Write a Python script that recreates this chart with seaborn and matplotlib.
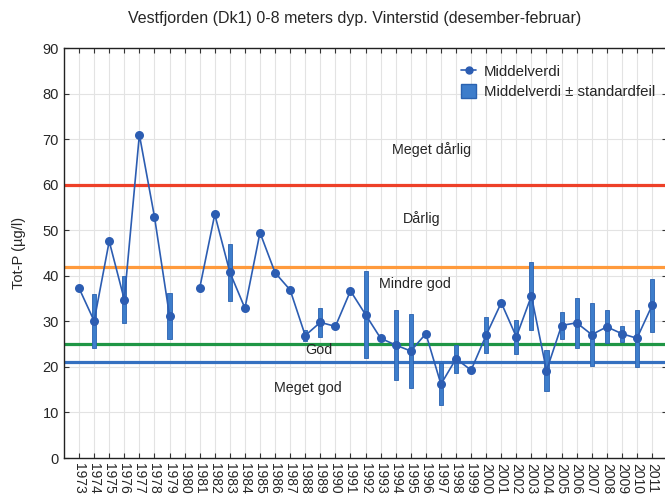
import numpy as np
import pandas as pd
import seaborn as sns
import matplotlib.pyplot as plt
from matplotlib.lines import Line2D
from matplotlib.patches import Patch

# mean Tot-P per winter, NaN where no sample
years = list(range(1973, 2012))
mean_vals = [37.3, 30.1, 47.6, 34.8, 71.0, 53.0, 31.2, np.nan, 37.3, 53.5,
             40.8, 32.9, 49.5, 40.7, 36.9, 26.9, 29.8, 28.9, 36.7, 31.5,
             26.3, 24.8, 23.5, 27.3, 16.2, 21.8, 19.3, 27.0, 34.1, 26.6,
             35.6, 19.2, 29.1, 29.7, 27.1, 28.8, 27.3, 26.3, 33.5]
# standard error (0 = no bar drawn)
std_err = [0, 5.9, 0, 5.25, 0, 0, 5.1, 0, 0, 0,
           6.3, 0, 0, 0, 0, 1.15, 3.2, 0, 0, 9.5,
           0, 7.6, 8.15, 0, 4.6, 3.05, 0, 4.0, 0, 3.7,
           7.4, 4.55, 2.9, 5.45, 6.85, 3.65, 1.75, 6.3, 5.75]

class_limits = [60, 42, 25, 21]
class_colors = ['#ee4028', '#ff9a3c', '#1f9645', '#3470c0']
class_names = ['Meget dårlig', 'Dårlig', 'Mindre god', 'God', 'Meget god']
class_label_pos = [(1996.4, 67.8), (1995.7, 52.7), (1995.3, 38.2),
                   (1988.9, 23.7), (1988.2, 15.4)]

df = pd.DataFrame({'year': years, 'mean': mean_vals, 'se': std_err})
# split the line where a year is missing
df['seg'] = df['mean'].isna().cumsum()
line_df = df.dropna(subset=['mean'])

sns.set_style('whitegrid')
plt.rcParams['font.family'] = ['Liberation Sans', 'DejaVu Sans']

fig = plt.figure(figsize=(6.65, 5.01), dpi=100)
ax = fig.add_axes([0.0962, 0.0858, 0.907, 0.818])

for lim, col in zip(class_limits, class_colors):
    ax.axhline(lim, color=col, lw=2.3, zorder=2)

err = df[df['se'] > 0]
ax.bar(err['year'], 2 * err['se'], bottom=err['mean'] - err['se'], width=0.27,
       color='#3d7dcb', edgecolor='#2a62b0', linewidth=0.6, zorder=3)

sns.lineplot(data=line_df, x='year', y='mean', units='seg', estimator=None,
             color='#2c5db2', lw=1.2, marker='o', markersize=6.5,
             markeredgewidth=0, ax=ax, zorder=4)

for name, (xp, yp) in zip(class_names, class_label_pos):
    ax.text(xp, yp, name, ha='center', va='center', fontsize=10.3)

ax.set_xlim(1972, 2012)
ax.set_ylim(0, 90)
ax.set_xticks(years)
ax.set_xticklabels([str(y) for y in years], rotation=270, fontsize=10)
ax.set_yticks(range(0, 91, 10))
ax.tick_params(axis='y', labelsize=10.5)
ax.tick_params(direction='in', length=3.5, color='#333333', top=True, right=True,
               bottom=True, left=True)
ax.grid(True, color='#e3e3e3', lw=0.8)
for s in ax.spines.values():
    s.set_color('#222222')
    s.set_linewidth(1.0)
ax.set_xlabel('')
ax.set_ylabel('Tot-P (µg/l)', fontsize=10.5, labelpad=12)

handles = [Line2D([0], [0], color='#2c5db2', lw=1.2, marker='o', markersize=5),
           Patch(facecolor='#3d7dcb', edgecolor='#2a62b0')]
ax.legend(handles, ['Middelverdi', 'Middelverdi ± standardfeil'], loc='upper right',
          bbox_to_anchor=(1.002, 0.995), frameon=False, fontsize=10.8,
          handlelength=1.0, handleheight=1.1, handletextpad=0.5, labelspacing=0.3)

fig.text(355 / 665, 1 - 18 / 501, 'Vestfjorden (Dk1) 0-8 meters dyp. Vinterstid (desember-februar)',
         ha='center', va='center', fontsize=11.5)

fig.savefig('out.png', dpi=100)
